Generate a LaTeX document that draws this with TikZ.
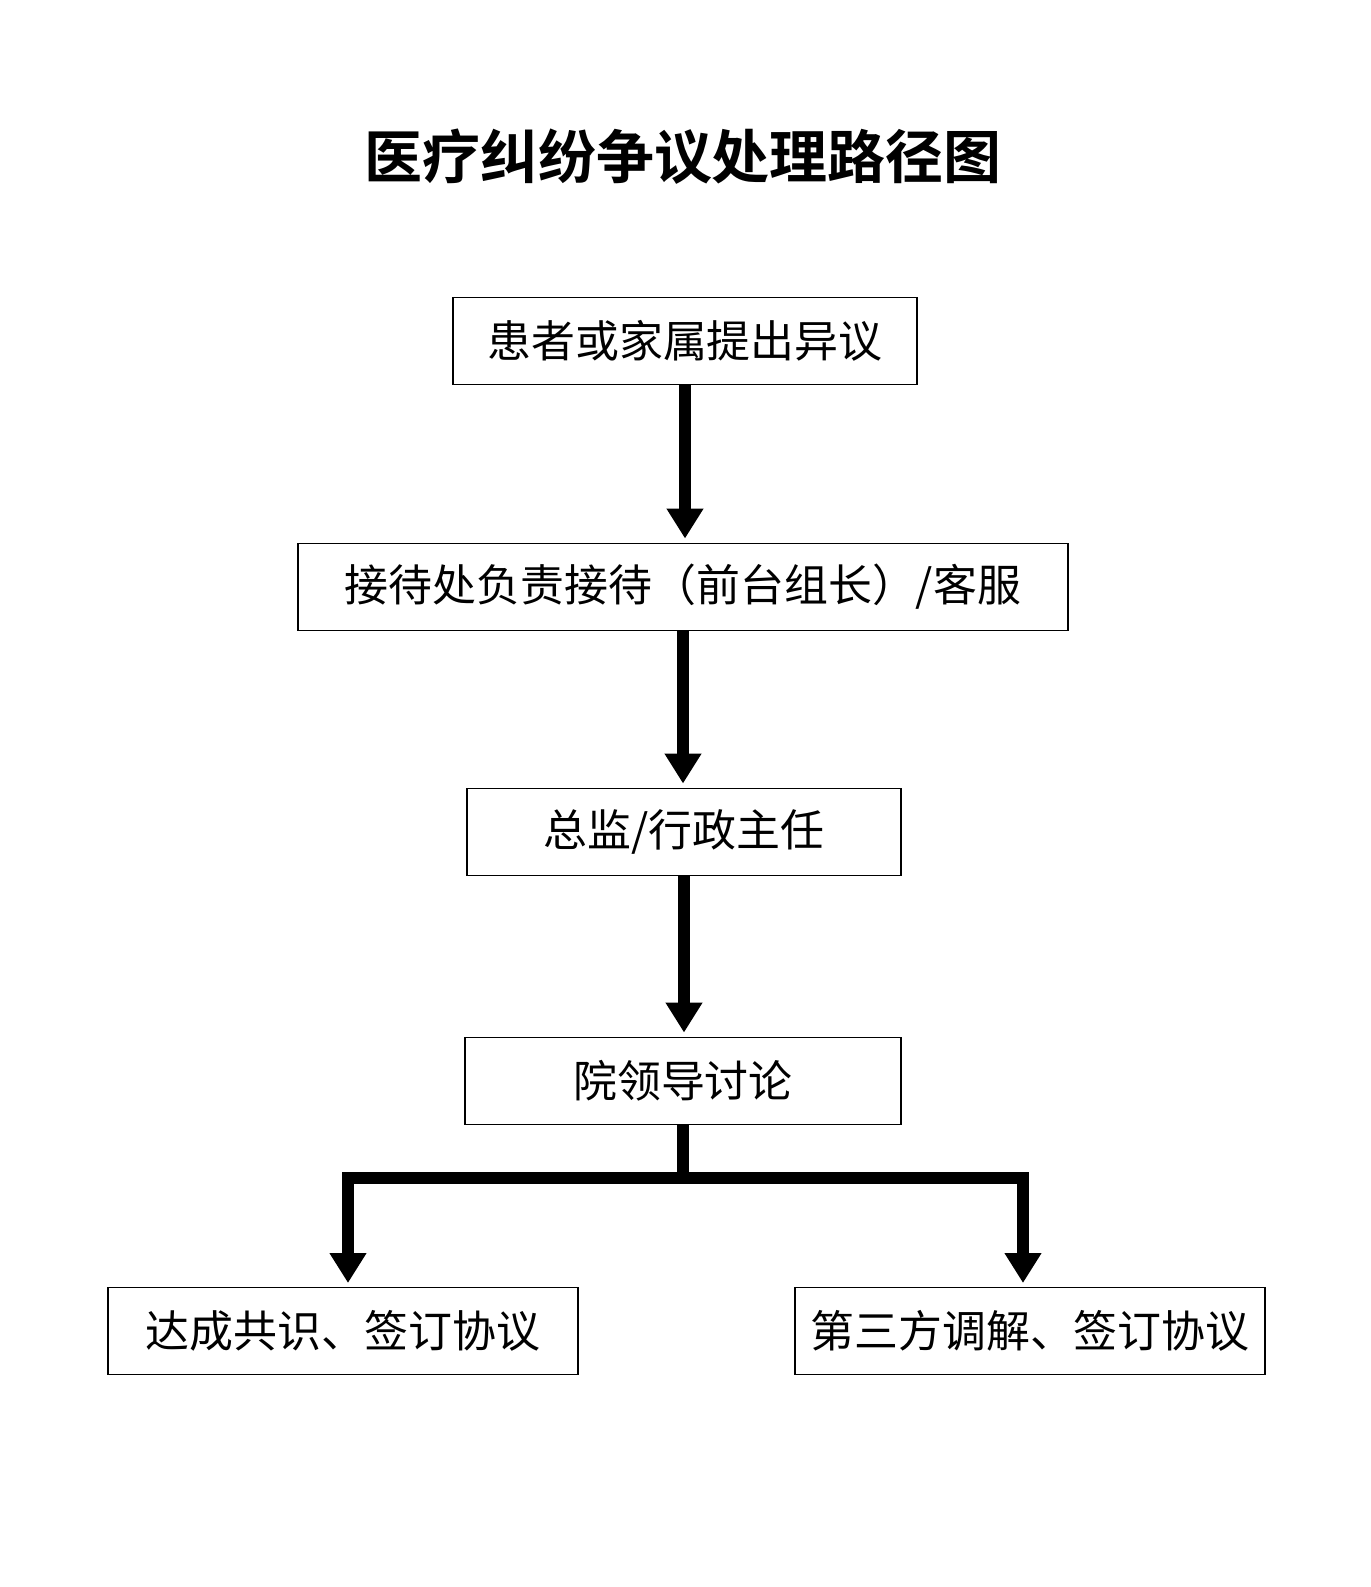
\documentclass[tikz,border=0pt]{standalone}
\usepackage{fontspec}
\usepackage{tikz}
\usetikzlibrary{arrows.meta}
\newfontfamily\cjk{Noto Sans CJK SC}
\newfontfamily\cjkbold{Noto Sans CJK SC Bold}

\begin{document}
\begin{tikzpicture}[x=0.02cm,y=-0.02cm,
  stepbox/.style={draw,line width=1.1pt,inner sep=0pt,minimum height=1.74cm,
    font=\cjk\fontsize{25}{28}\selectfont},
  flowline/.style={line width=6.8pt,line join=miter},
  flowarrow/.style={flowline,-{Triangle[width=0.7cm,length=0.6cm]},shorten >=0.08cm}]
\useasboundingbox (0,0) rectangle (1371,1587);
% title
\node (title) at (683,157) {\cjkbold\fontsize{33}{38}\selectfont 医疗纠纷争议处理路径图};
% boxes
\node[stepbox,minimum width=9.3cm]  (objection) at (685,341) {患者或家属提出异议};
\node[stepbox,minimum width=15.4cm] (reception) at (683,587) {接待处负责接待（前台组长）/客服};
\node[stepbox,minimum width=8.7cm]  (director)  at (684,832) {总监/行政主任};
\node[stepbox,minimum width=8.72cm] (leaders)   at (683,1081) {院领导讨论};
\node[stepbox,minimum width=9.4cm]  (consensus) at (343,1331) {达成共识、签订协议};
\node[stepbox,minimum width=9.42cm] (mediation) at (1030,1331) {第三方调解、签订协议};
% arrows
\draw[flowarrow] (objection.south) -- (objection.south |- reception.north);
\draw[flowarrow] (reception.south) -- (reception.south |- director.north);
\draw[flowarrow] (director.south) -- (director.south |- leaders.north);
% split
\coordinate (split) at (683,1178);
\coordinate (left end) at (348,1287);
\coordinate (right end) at (1023,1287);
\draw[flowarrow] (leaders.south) -- (split) -| (left end);
\draw[flowarrow] (split) -| (right end);
\end{tikzpicture}
\end{document}
